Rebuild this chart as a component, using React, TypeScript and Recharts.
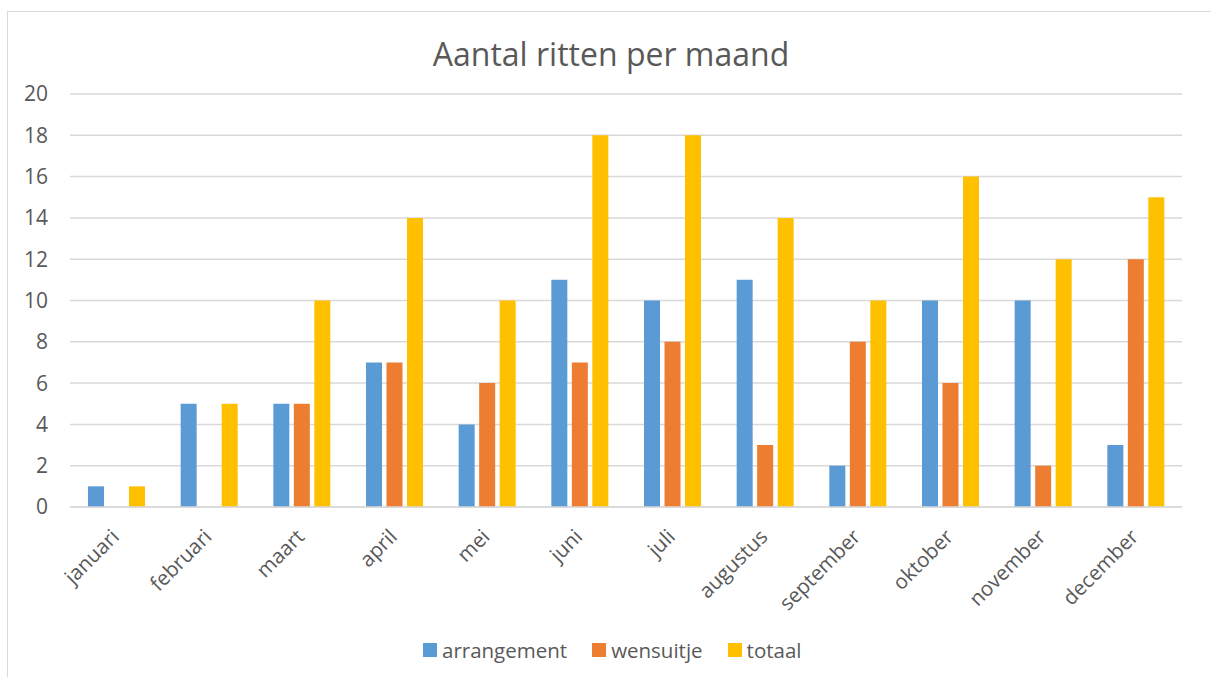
import { Bar, BarChart, CartesianGrid, XAxis, YAxis } from "recharts";

const months = [
  "januari",
  "februari",
  "maart",
  "april",
  "mei",
  "juni",
  "juli",
  "augustus",
  "september",
  "oktober",
  "november",
  "december",
];

const arrangement = [1, 5, 5, 7, 4, 11, 10, 11, 2, 10, 10, 3];
const wensuitje = [0, 0, 5, 7, 6, 7, 8, 3, 8, 6, 2, 12];
const totaal = [1, 5, 10, 14, 10, 18, 18, 14, 10, 16, 12, 15];

const yTicks = [0, 2, 4, 6, 8, 10, 12, 14, 16, 18, 20];

const seriesList = [
  { key: "arrangement", color: "#5B9BD5" },
  { key: "wensuitje", color: "#ED7D31" },
  { key: "totaal", color: "#FFC000" },
];

const data = months.map((month, i) => ({
  month,
  arrangement: arrangement[i],
  wensuitje: wensuitje[i],
  totaal: totaal[i],
}));

const FONT = "'Open Sans', sans-serif";
const TEXT = "#595959";
const GRID = "#d9d9d9";

function MonthTick(props: any) {
  const { x, y, payload } = props;
  const ax = x + 4;
  const ay = y + 31;
  return (
    <text
      x={ax}
      y={ay}
      transform={`rotate(-45, ${ax}, ${ay})`}
      textAnchor="end"
      fontSize={20.5}
      fontFamily={FONT}
      fill={TEXT}
    >
      {payload.value}
    </text>
  );
}

export default function App() {
  return (
    <div
      style={{
        position: "absolute",
        left: 0,
        top: 0,
        width: 1211,
        height: 677,
        background: "#fff",
        overflow: "hidden",
        fontFamily: FONT,
      }}
    >
      {/* chart frame, right and bottom edges run off the picture */}
      <div
        style={{
          position: "absolute",
          left: 7,
          top: 11,
          width: 1230,
          height: 700,
          border: `1.5px solid ${GRID}`,
        }}
      />

      <div
        style={{
          position: "absolute",
          left: 0,
          top: 38,
          width: 1222,
          textAlign: "center",
          fontSize: 32,
          lineHeight: "32px",
          color: TEXT,
        }}
      >
        Aantal ritten per maand
      </div>

      <div style={{ position: "absolute", left: 0, top: 0 }}>
        <BarChart
          width={1211}
          height={677}
          data={data}
          margin={{ top: 94, right: 29, left: 0, bottom: 50 }}
          barSize={16}
          barGap={4.5}
        >
          <CartesianGrid
            vertical={false}
            stroke={GRID}
            strokeWidth={1.5}
          />
          <XAxis
            dataKey="month"
            height={120}
            interval={0}
            tickLine={false}
            tickSize={0}
            tickMargin={0}
            axisLine={{ stroke: GRID, strokeWidth: 1.5 }}
            tick={<MonthTick />}
          />
          <YAxis
            width={70}
            domain={[0, 20]}
            ticks={yTicks}
            interval={0}
            tickLine={false}
            axisLine={false}
            tickSize={0}
            tickMargin={22}
            tick={{ fontSize: 21, fill: TEXT, fontFamily: FONT }}
          />
          {seriesList.map((s) => (
            <Bar
              key={s.key}
              dataKey={s.key}
              fill={s.color}
              isAnimationActive={false}
            />
          ))}
        </BarChart>
      </div>

      <div
        style={{
          position: "absolute",
          left: 423,
          top: 636,
          display: "flex",
          alignItems: "center",
          fontSize: 20.5,
          lineHeight: "28px",
          color: TEXT,
        }}
      >
        {seriesList.map((s, i) => (
          <div
            key={s.key}
            style={{
              display: "flex",
              alignItems: "center",
              marginRight: i < seriesList.length - 1 ? 25 : 0,
            }}
          >
            <span
              style={{
                display: "inline-block",
                width: 14,
                height: 14,
                background: s.color,
                marginRight: 5,
              }}
            />
            <span>{s.key}</span>
          </div>
        ))}
      </div>
    </div>
  );
}
